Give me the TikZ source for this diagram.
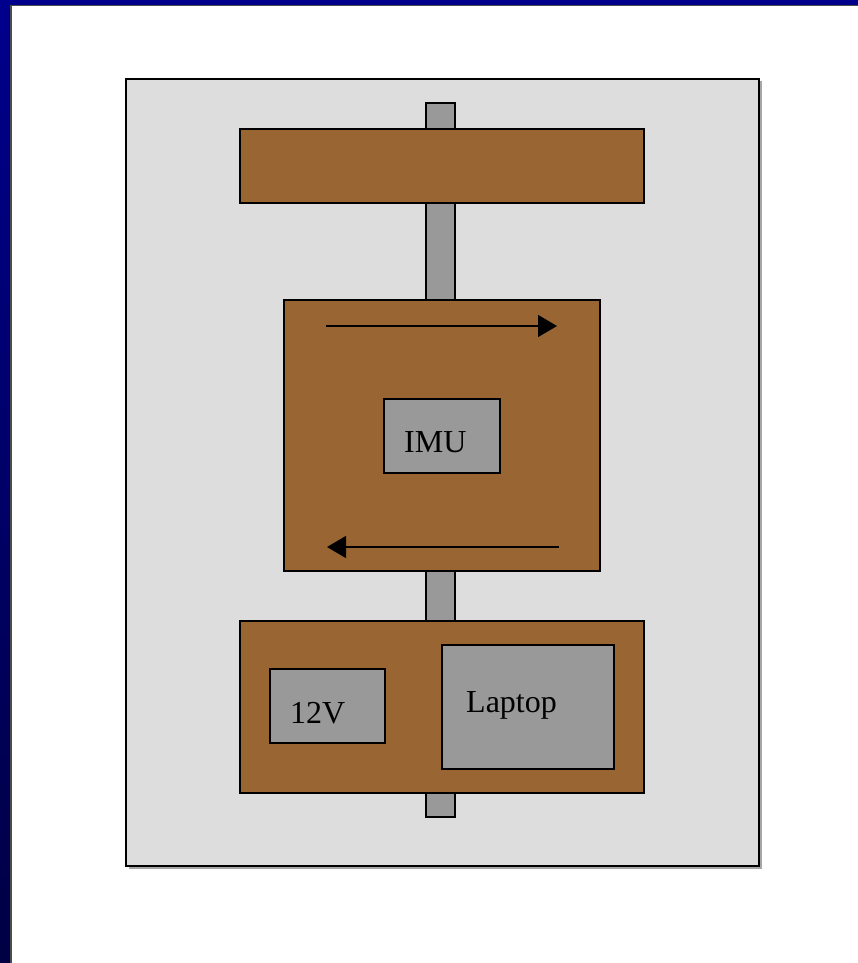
\documentclass[tikz,border=0pt]{standalone}
\usepackage{fontspec}
\setmainfont{Liberation Serif}
\usetikzlibrary{arrows.meta}
\definecolor{panel}{HTML}{DDDDDD}
\definecolor{brownp}{HTML}{996633}
\definecolor{grayp}{HTML}{999999}
\definecolor{bluetop}{HTML}{00008C}
\definecolor{bluebot}{HTML}{000044}
\tikzset{
  part/.style={draw=black, line width=1.5pt},
  plate/.style={part, fill=brownp},
  unit/.style={part, fill=grayp},
  lbl/.style={font=\fontsize{32}{34}\selectfont, inner sep=0pt, anchor=base west},
  flow/.style={line width=1.5pt, -{Triangle[length=19pt,width=22pt]}}
}
\begin{document}
\begin{tikzpicture}[x=1pt,y=-1pt]
\useasboundingbox (0,0) rectangle (858,963);
\fill[white] (0,0) rectangle (858,963);
% frame
\shade[top color=bluetop, bottom color=bluebot] (0,0) rectangle (10,963);
\fill[bluetop] (0,0) rectangle (858,5);
\fill[black!70] (10,5) rectangle (11.5,963);
\fill[black!70] (10,5) rectangle (858,6.5);
% panel with shadow
\fill[black!35] (129,81) rectangle (762,869);
\path[part, fill=panel] (126,79) rectangle (759,866);
% rod
\path[unit] (426,103) rectangle (455,817);
% top plate
\path[plate] (240,129) rectangle (644,203);
% middle box
\path[plate] (284,300) rectangle (600,571);
\coordinate (a1) at (326,326);
\coordinate (a2) at (557,326);
\coordinate (b1) at (559,547);
\coordinate (b2) at (327,547);
\draw[flow] (a1) -- (a2);
\draw[flow] (b1) -- (b2);
\path[unit] (384,399) rectangle (500,473);
\node[lbl] (imu) at (404,452) {IMU};
% bottom plate
\path[plate] (240,621) rectangle (644,793);
\path[unit] (270,669) rectangle (385,743);
\node[lbl] (v12) at (290,723) {12V};
\path[unit] (442,645) rectangle (614,769);
\node[lbl] (lap) at (466,712) {Laptop};
\end{tikzpicture}
\end{document}
